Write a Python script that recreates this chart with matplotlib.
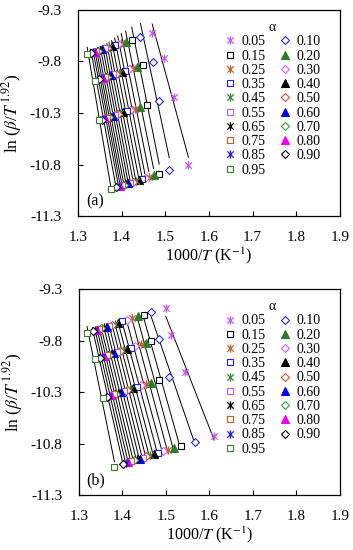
import numpy as np
import matplotlib
matplotlib.use('Agg')
import matplotlib.pyplot as plt
from matplotlib.path import Path
from matplotlib.lines import Line2D

plt.rcParams['font.family'] = 'Liberation Serif'
plt.rcParams['mathtext.fontset'] = 'stix'

alphas = ['0.05', '0.10', '0.15', '0.20', '0.25', '0.30', '0.35', '0.40', '0.45', '0.50',
          '0.55', '0.60', '0.65', '0.70', '0.75', '0.80', '0.85', '0.90', '0.95']

# 1000/T for each alpha at the four heating rates (panel a)
a_x = [[1.470, 1.497, 1.520, 1.553], [1.443, 1.471, 1.485, 1.509], [1.423, 1.450, 1.459, 1.486],
       [1.409, 1.436, 1.442, 1.473], [1.399, 1.425, 1.430, 1.462], [1.391, 1.416, 1.420, 1.453],
       [1.384, 1.408, 1.412, 1.446], [1.377, 1.400, 1.404, 1.439], [1.371, 1.393, 1.397, 1.432],
       [1.366, 1.387, 1.391, 1.426], [1.361, 1.381, 1.385, 1.420], [1.356, 1.376, 1.380, 1.415],
       [1.351, 1.371, 1.375, 1.410], [1.346, 1.366, 1.370, 1.405], [1.342, 1.361, 1.366, 1.401],
       [1.338, 1.357, 1.362, 1.397], [1.334, 1.353, 1.358, 1.393], [1.329, 1.348, 1.354, 1.387],
       [1.321, 1.339, 1.348, 1.375]]
a_y = [[-9.525, -9.770, -10.141, -10.802], [-9.561, -9.804, -10.186, -10.857], [-9.588, -9.832, -10.220, -10.887],
       [-9.607, -9.850, -10.242, -10.903], [-9.620, -9.865, -10.258, -10.918], [-9.631, -9.877, -10.272, -10.930],
       [-9.641, -9.888, -10.283, -10.939], [-9.651, -9.899, -10.294, -10.948], [-9.659, -9.909, -10.303, -10.958],
       [-9.666, -9.917, -10.311, -10.966], [-9.673, -9.925, -10.320, -10.974], [-9.680, -9.932, -10.327, -10.981],
       [-9.687, -9.939, -10.334, -10.987], [-9.695, -9.946, -10.341, -10.994], [-9.700, -9.953, -10.346, -11.000],
       [-9.706, -9.959, -10.352, -11.005], [-9.712, -9.965, -10.358, -11.010], [-9.719, -9.972, -10.363, -11.019],
       [-9.730, -9.985, -10.372, -11.036]]

# panel b
b_x = [[1.500, 1.513, 1.543, 1.611], [1.467, 1.484, 1.507, 1.568], [1.449, 1.466, 1.484, 1.534],
       [1.437, 1.455, 1.465, 1.519], [1.423, 1.442, 1.455, 1.505], [1.410, 1.430, 1.444, 1.493],
       [1.400, 1.419, 1.434, 1.482], [1.391, 1.410, 1.425, 1.472], [1.384, 1.402, 1.417, 1.463],
       [1.377, 1.395, 1.410, 1.455], [1.370, 1.388, 1.403, 1.447], [1.364, 1.381, 1.397, 1.440],
       [1.358, 1.375, 1.391, 1.433], [1.352, 1.369, 1.385, 1.426], [1.347, 1.364, 1.380, 1.420],
       [1.342, 1.359, 1.375, 1.414], [1.337, 1.354, 1.370, 1.408], [1.332, 1.349, 1.365, 1.402],
       [1.319, 1.337, 1.355, 1.382]]
b_y = [[-9.482, -9.746, -10.108, -10.730], [-9.524, -9.783, -10.154, -10.782], [-9.548, -9.807, -10.183, -10.824],
       [-9.564, -9.821, -10.208, -10.843], [-9.583, -9.838, -10.221, -10.861], [-9.600, -9.854, -10.236, -10.877],
       [-9.614, -9.869, -10.249, -10.891], [-9.626, -9.881, -10.261, -10.904], [-9.636, -9.892, -10.272, -10.915],
       [-9.646, -9.902, -10.281, -10.926], [-9.656, -9.912, -10.291, -10.937], [-9.664, -9.921, -10.299, -10.946],
       [-9.673, -9.930, -10.307, -10.955], [-9.681, -9.938, -10.316, -10.965], [-9.688, -9.945, -10.323, -10.973],
       [-9.695, -9.952, -10.330, -10.981], [-9.702, -9.959, -10.337, -10.989], [-9.710, -9.966, -10.344, -10.997],
       [-9.728, -9.983, -10.358, -11.025]]

xticks = [1.3, 1.4, 1.5, 1.6, 1.7, 1.8, 1.9]
yticks = [-11.3, -10.8, -10.3, -9.8, -9.3]

star = Path([(-1, -1), (1, 1), (-1, 1), (1, -1), (0, -1.3), (0, 1.3)],
            [Path.MOVETO, Path.LINETO] * 3)
shapes = [star, 'D', 's', '^']
colors = ['#CC55EE', '#2525DD', 'black', '#2D7A2D', '#C0602A', '#CC66FF', '#1F1FE0',
          'black', '#3A8A3A', '#CC5533', '#BB55EE', '#0000EE', 'black', '#3A9A3A',
          '#C06020', '#EE00EE', '#1F1FE0', 'black', '#3B7A2A']


def style(i):
    m = shapes[i % 4]
    c = colors[i]
    if m == '^':
        return dict(marker=m, ms=5.5, mfc=c, mec=c, mew=0.8)
    if m == 'D':
        return dict(marker=m, ms=4.3, mfc='white', mec=c, mew=0.8)
    if m == 's':
        return dict(marker=m, ms=5, mfc='white', mec=c, mew=0.8)
    return dict(marker=m, ms=6, mfc='none', mec=c, mew=0.9)


def draw(ax, xs, ys, tag):
    for i in range(len(alphas)):
        x = np.array(xs[i])
        y = np.array(ys[i])
        k, b = np.polyfit(x, y, 1)
        xl = np.array([x.min(), x.max()])
        ax.plot(xl, k * xl + b, color='black', lw=0.7, zorder=1)
    for i in range(len(alphas)):
        ax.plot(xs[i], ys[i], ls='none', zorder=3, **style(i))

    ax.set_xlim(1.3, 1.9)
    ax.set_ylim(-11.3, -9.3)
    ax.set_xticks(xticks)
    ax.set_yticks(yticks)
    ax.set_xticklabels([f'{v:.1f}' for v in xticks])
    ax.set_yticklabels([f'{v:.1f}' for v in yticks])
    ax.tick_params(direction='in', length=3.5, width=0.8, labelsize=11)
    ax.tick_params(axis='x', pad=11)
    ax.tick_params(axis='y', pad=12)
    for s in ax.spines.values():
        s.set_linewidth(0.9)
    ax.set_xlabel(r'1000/$\mathit{T}$ (K$^{-1}$)', fontsize=11.5, labelpad=1)
    ax.set_ylabel(r'ln ($\beta$/$\mathit{T}^{\,\mathit{1.92}}$)', fontsize=12.5, labelpad=4)
    ax.text(0.03, 0.05, tag, transform=ax.transAxes, fontsize=11.5)

    order = list(range(0, 19, 2)) + list(range(1, 19, 2))
    handles = [Line2D([], [], ls='none', **style(i)) for i in order]
    labels = [alphas[i] for i in order]
    ax.legend(handles, labels, ncol=2, loc='upper right', bbox_to_anchor=(0.97, 1.0),
              frameon=False, title='α', fontsize=10, title_fontsize=10,
              labelspacing=0.09, handlelength=0.8, handletextpad=0.45,
              columnspacing=1.0, borderpad=0.3)


fig = plt.figure(figsize=(3.53, 5.5), dpi=100)
ax1 = fig.add_axes([0.221, 0.607, 0.742, 0.375])
ax2 = fig.add_axes([0.223, 0.100, 0.740, 0.3745])
draw(ax1, a_x, a_y, '(a)')
draw(ax2, b_x, b_y, '(b)')
fig.savefig('out.png', dpi=100)
